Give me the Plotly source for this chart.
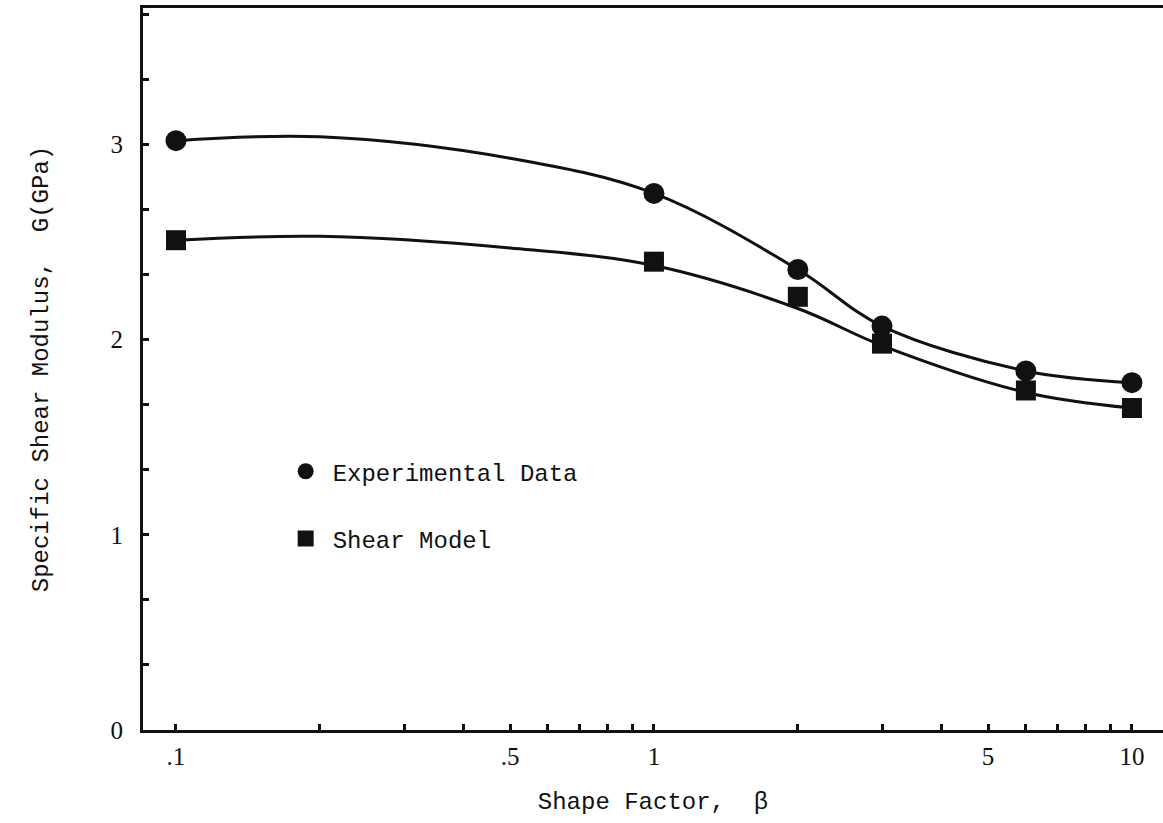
import plotly.graph_objects as go

# Measured points: specific shear modulus G (GPa) against shape factor beta
beta_exp = [0.1, 1.0, 2.0, 3.0, 6.0, 10.0]
g_exp = [3.02, 2.75, 2.36, 2.07, 1.84, 1.78]

beta_model = [0.1, 1.0, 2.0, 3.0, 6.0, 10.0]
g_model = [2.51, 2.40, 2.22, 1.98, 1.74, 1.65]

# Hand-faired curves through each set
curve_beta = [0.1, 0.2, 0.5, 1.0, 2.0, 3.0, 6.0, 10.0]
curve_exp = [3.02, 3.04, 2.93, 2.75, 2.36, 2.07, 1.84, 1.78]
curve_model = [2.51, 2.53, 2.47, 2.38, 2.16, 1.97, 1.73, 1.65]

# Axis ticks
x_tickvals = [0.1, 0.2, 0.3, 0.4, 0.5, 0.6, 0.7, 0.8, 0.9,
              1, 2, 3, 4, 5, 6, 7, 8, 9, 10]
x_ticktext = [".1", "", "", "", ".5", "", "", "", "",
              "1", "", "", "", "5", "", "", "", "", "10"]
y_tickvals = [i / 3 for i in range(12)]
y_ticktext = ["0", "", "", "1", "", "", "2", "", "", "3", "", ""]

INK = "#111111"
mono = "Liberation Mono, Courier New, monospace"
serif = "Liberation Serif, Times New Roman, serif"

fig = go.Figure()

fig.add_trace(go.Scatter(
    x=curve_beta, y=curve_exp, mode="lines",
    line=dict(color=INK, width=3, shape="spline", smoothing=1.0),
    showlegend=False, hoverinfo="skip"))
fig.add_trace(go.Scatter(
    x=curve_beta, y=curve_model, mode="lines",
    line=dict(color=INK, width=3, shape="spline", smoothing=1.0),
    showlegend=False, hoverinfo="skip"))

fig.add_trace(go.Scatter(
    x=beta_exp, y=g_exp, mode="markers", name="Experimental Data",
    legendgroup="exp",
    marker=dict(symbol="circle", size=21, color=INK)))
fig.add_trace(go.Scatter(
    x=beta_model, y=g_model, mode="markers", name="Shear Model",
    legendgroup="model",
    marker=dict(symbol="square", size=20, color=INK)))

fig.update_layout(
    width=1163, height=823,
    margin=dict(l=143, r=0, t=8, b=93),
    paper_bgcolor="white", plot_bgcolor="white",
    font=dict(family=mono, size=24, color=INK),
    legend=dict(
        x=0.133, y=0.389, xanchor="left", yanchor="top",
        bgcolor="rgba(0,0,0,0)", borderwidth=0,
        font=dict(family=mono, size=24, color=INK),
        traceorder="grouped", tracegroupgap=33, itemwidth=44),
)

fig.update_xaxes(
    type="log", range=[-1.069, 1.065],
    showgrid=False, zeroline=False,
    showline=True, linecolor=INK, linewidth=3, mirror=True,
    ticks="inside", ticklen=6, tickwidth=3, tickcolor=INK,
    tickvals=x_tickvals, ticktext=x_ticktext,
    tickfont=dict(family=serif, size=25, color=INK),
    ticklabelstandoff=2,
    title=dict(text="Shape Factor,  β", font=dict(family=mono, size=24, color=INK),
               standoff=24),
)
fig.update_yaxes(
    range=[0, 3.70],
    showgrid=False, zeroline=False,
    showline=True, linecolor=INK, linewidth=3, mirror=False,
    ticks="inside", ticklen=6, tickwidth=3, tickcolor=INK,
    tickvals=y_tickvals, ticktext=y_ticktext,
    tickfont=dict(family=serif, size=25, color=INK),
    ticklabelstandoff=12,
    title=dict(text="Specific Shear Modulus,  G(GPa)",
               font=dict(family=mono, size=24, color=INK), standoff=56),
)

fig.write_html("out.html")
